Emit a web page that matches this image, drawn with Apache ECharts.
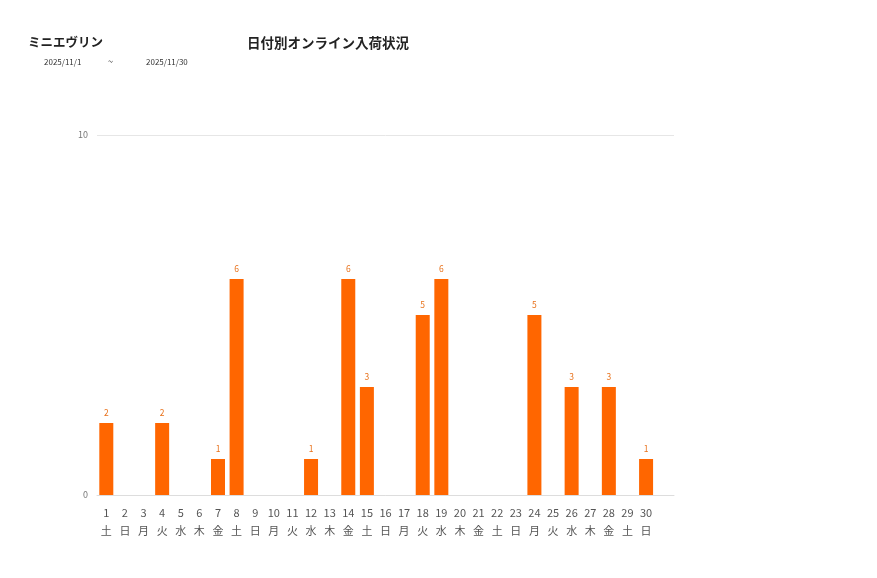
<!DOCTYPE html>
<html>
<head>
<meta charset="utf-8">
<script src="https://cdn.jsdelivr.net/npm/echarts@6/dist/echarts.min.js"></script>
<style>
  html, body { margin: 0; padding: 0; background: #fff; }
  #chart { width: 877px; height: 578px; }
</style>
</head>
<body>
<div id="chart"></div>
<script>
// 31 slots on the axis; the last one is left empty (November has 30 days)
const days = ["1", "2", "3", "4", "5", "6", "7", "8", "9", "10", "11", "12", "13", "14", "15",
  "16", "17", "18", "19", "20", "21", "22", "23", "24", "25", "26", "27", "28", "29", "30", ""];
const weekdays = ["土", "日", "月", "火", "水", "木", "金", "土", "日", "月", "火", "水", "木", "金", "土",
  "日", "月", "火", "水", "木", "金", "土", "日", "月", "火", "水", "木", "金", "土", "日", ""];
const arrivals = [2, 0, 0, 2, 0, 0, 1, 6, 0, 0, 0, 1, 0, 6, 3,
  0, 0, 5, 6, 0, 0, 0, 0, 5, 0, 3, 0, 3, 0, 1, null];

const brand = "ミニエヴリン";
const chartTitle = "日付別オンライン入荷状況";
const dateFrom = "2025/11/1";
const dateTo = "2025/11/30";

const font = "'Noto Sans CJK JP', 'Noto Sans', sans-serif";
const chart = echarts.init(document.getElementById("chart"));

chart.setOption({
  animation: false,
  textStyle: { fontFamily: font },
  graphic: [
    { type: "text", left: 28, top: 36, style: { text: brand, font: "bold 12.5px " + font, fill: "#222" } },
    { type: "text", left: 247, top: 36, style: { text: chartTitle, font: "bold 13.5px " + font, fill: "#222" } },
    { type: "text", left: 44, top: 58, style: { text: dateFrom, font: "8px " + font, fill: "#333" } },
    { type: "text", left: 108, top: 57, style: { text: "~", font: "9px " + font, fill: "#333" } },
    { type: "text", left: 146, top: 58, style: { text: dateTo, font: "8px " + font, fill: "#333" } }
  ],
  grid: { left: 97, right: 203, top: 135, bottom: 83 },
  xAxis: {
    type: "category",
    data: days.map((d, i) => d ? d + "\n" + weekdays[i] : ""),
    axisTick: { show: false },
    axisLine: { lineStyle: { color: "#ddd" } },
    axisLabel: { color: "#555", fontSize: 11, lineHeight: 18, margin: 9, interval: 0 }
  },
  yAxis: {
    type: "value",
    min: 0,
    max: 10,
    interval: 10,
    axisLabel: { color: "#777", fontSize: 9, margin: 9 },
    splitLine: { lineStyle: { color: "#e6e6e6" } }
  },
  series: [{
    type: "bar",
    data: arrivals,
    barWidth: 14,
    itemStyle: { color: "#ff6600" },
    label: {
      show: true,
      position: "top",
      color: "#e8721c",
      fontSize: 8.5,
      distance: 6,
      formatter: p => (p.value > 0 ? p.value : "")
    }
  }]
});
</script>
</body>
</html>
